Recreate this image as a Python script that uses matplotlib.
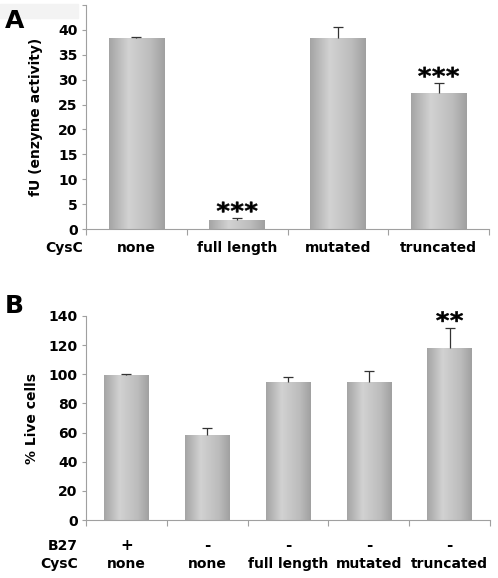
import numpy as np
import matplotlib.pyplot as plt
from matplotlib.colors import LinearSegmentedColormap
from matplotlib.patches import Rectangle, PathPatch
from matplotlib.textpath import TextPath
from matplotlib.font_manager import FontProperties
from matplotlib.transforms import Affine2D

# Panel A data
a_cats = ["none", "full length", "mutated", "truncated"]
a_vals = [38.3, 1.8, 38.3, 27.3]
a_errs = [0.3, 0.4, 2.2, 2.0]
a_stars = [0, 3, 0, 3]

# Panel B data
b_b27 = ["+", "-", "-", "-", "-"]
b_cysc = ["none", "none", "full length", "mutated", "truncated"]
b_vals = [99.8, 58.5, 94.8, 94.6, 118.0]
b_errs = [0.5, 4.8, 3.0, 7.5, 14.0]
b_stars = [0, 0, 0, 0, 2]

plt.rcParams['font.family'] = 'DejaVu Sans'
plt.rcParams['font.weight'] = 'bold'

grad = LinearSegmentedColormap.from_list(
    "bar", [(0, "#a4a4a4"), (0.35, "#d2d2d2"), (0.75, "#bcbcbc"), (1, "#a0a0a0")])
axis_col = "#a0a0a0"

star_path = TextPath((0, 0), "*", size=10,
                     prop=FontProperties(family="DejaVu Sans", weight="bold"))
star_ext = star_path.get_extents()


def gradient_bars(ax, vals, width=0.55):
    x = np.arange(len(vals))
    bars = ax.bar(x, vals, width=width, color="none", edgecolor="none", zorder=2)
    g = np.linspace(0, 1, 256).reshape(1, -1)
    for b in bars:
        x0, y0 = b.get_x(), b.get_y()
        im = ax.imshow(g, cmap=grad, aspect="auto", zorder=2,
                       extent=(x0, x0 + b.get_width(), y0, y0 + b.get_height()))
        im.set_clip_path(b)
    return x


def upper_errors(ax, x, vals, errs):
    tops = np.array(vals) + np.array(errs)
    ax.vlines(x, vals, tops, color="#333333", lw=0.9, zorder=3)
    ax.plot(x, tops, ls="none", marker="_", ms=6.5, mew=0.9, color="#333333", zorder=3)
    return tops


def draw_stars(fig, ax, x, tops, counts):
    # asterisks as wide, flat glyphs placed in pixel space above the error bars
    for xi, top, n in zip(x, tops, counts):
        px, py = ax.transData.transform((xi, top))
        for k in range(n):
            cx = px + (k - (n - 1) / 2) * 14
            cy = py + 11
            t = (Affine2D()
                 .translate(-star_ext.x0 - star_ext.width / 2,
                            -star_ext.y0 - star_ext.height / 2)
                 .scale(12.5 / star_ext.width, 10.5 / star_ext.height)
                 .translate(cx, cy))
            fig.add_artist(PathPatch(star_path, transform=t, facecolor="black",
                                     edgecolor="black", lw=0.4))


def style_axis(ax, n, ymax, step):
    ax.set_xlim(-0.5, n - 0.5)
    ax.set_ylim(0, ymax)
    for s in ["top", "right"]:
        ax.spines[s].set_visible(False)
    for s in ["left", "bottom"]:
        ax.spines[s].set_color(axis_col)
    ax.set_xticks(np.arange(-0.5, n, 1.0))
    ax.set_xticklabels([])
    ax.tick_params(axis="x", length=4, color=axis_col, direction="out")
    ax.set_yticks(np.arange(0, ymax + 0.1, step))
    ax.tick_params(axis="y", length=3, color=axis_col, labelsize=10, pad=3)


fig = plt.figure(figsize=(4.98, 5.78), dpi=100)

# ---- Panel A ----
axA = fig.add_axes([0.1727, 0.6038, 0.8093, 0.3875])
x = gradient_bars(axA, a_vals)
style_axis(axA, len(a_vals), 45, 5)
axA.set_yticks(np.arange(0, 45.1, 5))
axA.set_yticklabels([str(v) for v in range(0, 41, 5)] + [""])
tops = upper_errors(axA, x, a_vals, a_errs)
draw_stars(fig, axA, x, tops, a_stars)
axA.set_ylabel("fU (enzyme activity)", fontsize=10, fontweight="bold", labelpad=11)
for i, c in enumerate(a_cats):
    axA.text(i, -0.085, c, transform=axA.get_xaxis_transform(), ha="center",
             va="center", fontsize=10)
axA.text(-0.008, -0.085, "CysC", transform=axA.transAxes, ha="right",
         va="center", fontsize=10)
fig.patches.append(Rectangle((0, 1 - 18 / 578), 78 / 498, 14 / 578,
                             transform=fig.transFigure, color="#f3f3f3", zorder=0))
fig.text(5 / 498, 1 - 28 / 578, "A", fontsize=18, fontweight="bold", va="baseline")

# ---- Panel B ----
axB = fig.add_axes([0.1727, 0.1003, 0.8113, 0.353])
x = gradient_bars(axB, b_vals)
style_axis(axB, len(b_vals), 140, 20)
tops = upper_errors(axB, x, b_vals, b_errs)
draw_stars(fig, axB, x, tops, b_stars)
axB.set_ylabel("% Live cells", fontsize=10, fontweight="bold", labelpad=7)
for i in range(len(b_vals)):
    axB.text(i, -0.125, b_b27[i], transform=axB.get_xaxis_transform(), ha="center",
             va="center", fontsize=11)
    axB.text(i, -0.215, b_cysc[i], transform=axB.get_xaxis_transform(), ha="center",
             va="center", fontsize=10)
axB.text(-0.02, -0.125, "B27", transform=axB.transAxes, ha="right",
         va="center", fontsize=10)
axB.text(-0.02, -0.215, "CysC", transform=axB.transAxes, ha="right",
         va="center", fontsize=10)
fig.text(5 / 498, 1 - 313 / 578, "B", fontsize=18, fontweight="bold", va="baseline")

fig.savefig("out.png", dpi=100)
